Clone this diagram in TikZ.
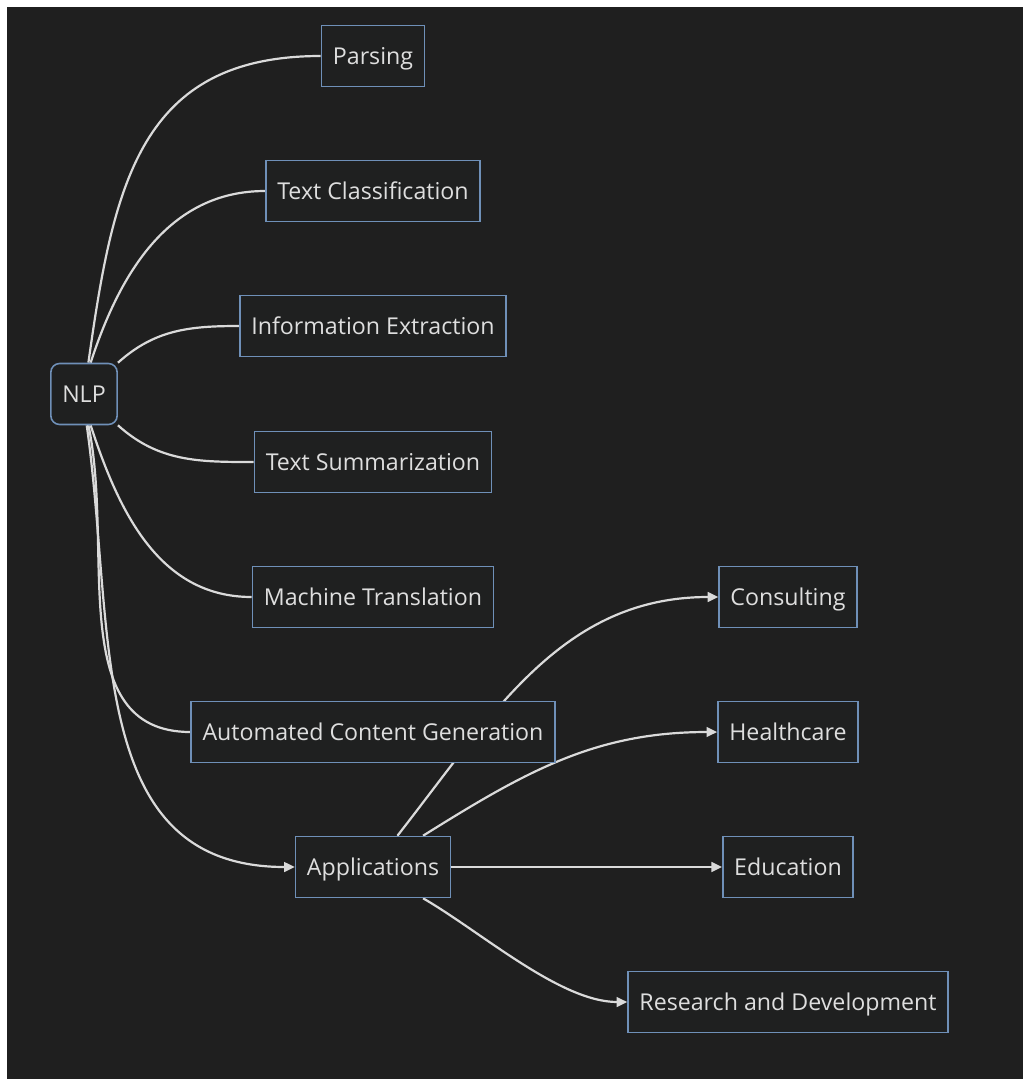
\documentclass[tikz,border=0pt]{standalone}
\usepackage{fontspec}
\setmainfont{Open Sans}
\usetikzlibrary{arrows.meta}
\definecolor{bgdark}{HTML}{1F1F1F}
\definecolor{boxfill}{HTML}{1F2020}
\definecolor{boxline}{HTML}{6F90B8}
\definecolor{linkgray}{HTML}{DADADA}
\definecolor{textgray}{HTML}{DEDEDE}
\pgfdeclarelayer{bg}
\pgfdeclarelayer{edges}
\pgfsetlayers{bg,edges,main}

\begin{document}
\begin{tikzpicture}[x=0.02cm, y=0.02cm,
    box/.style={draw=boxline, line width=0.9pt, fill=boxfill, text=textgray,
        font=\fontsize{13.2}{15}\selectfont, minimum height=1.22cm, inner xsep=6.5pt,
        text height=2.05ex, text depth=0.15ex},
    link/.style={draw=linkgray, line width=1.25pt},
    arrowlink/.style={link, -{Triangle[length=6pt, width=5.5pt]}}]
    \useasboundingbox (0, 0) rectangle (1023, -1079);
    \begin{pgfonlayer}{bg}
        \fill[bgdark] (7, -7) rectangle (1023, -1079);
    \end{pgfonlayer}

    \node[box, rounded corners=5pt, minimum width=1.28cm] (nlp) at (84, -394) {NLP};
    \node[box] (parsing) at (373, -56) {Parsing};
    \node[box] (textclass) at (373, -191) {Text Classification};
    \node[box] (infoext) at (373, -326) {Information Extraction};
    \node[box] (textsum) at (373, -462) {Text Summarization};
    \node[box] (machtrans) at (373, -597) {Machine Translation};
    \node[box] (autogen) at (373, -732) {Automated Content Generation};
    \node[box] (apps) at (373, -867) {Applications};
    \node[box] (consulting) at (788, -597) {Consulting};
    \node[box] (health) at (788, -732) {Healthcare};
    \node[box] (education) at (788, -867) {Education};
    \node[box] (research) at (788, -1002) {Research and Development};

    \begin{pgfonlayer}{edges}
        \draw[link] (nlp.82) to[out=82, in=180, looseness=1.2] (parsing.west);
        \draw[link] (nlp.78) to[out=72, in=180] (textclass.west);
        \draw[link] (nlp.north east) to[out=42, in=180] (infoext.west);
        \draw[link] (nlp.south east) to[out=-42, in=180] (textsum.west);
        \draw[link] (nlp.-78) to[out=-72, in=180] (machtrans.west);
        \draw[link] (nlp.-82) to[out=-78, in=180] (autogen.west);
        \draw[arrowlink] (nlp.-85) to[out=-82, in=180, looseness=1.1] (apps.west);
        \draw[arrowlink] (apps.52) to[out=52, in=180] (consulting.west);
        \draw[arrowlink] (apps.32) to[out=32, in=180] (health.west);
        \draw[arrowlink] (apps.east) -- (education.west);
        \draw[arrowlink] (apps.-32) to[out=-30, in=180, looseness=0.75] (research.west);
    \end{pgfonlayer}
\end{tikzpicture}
\end{document}
